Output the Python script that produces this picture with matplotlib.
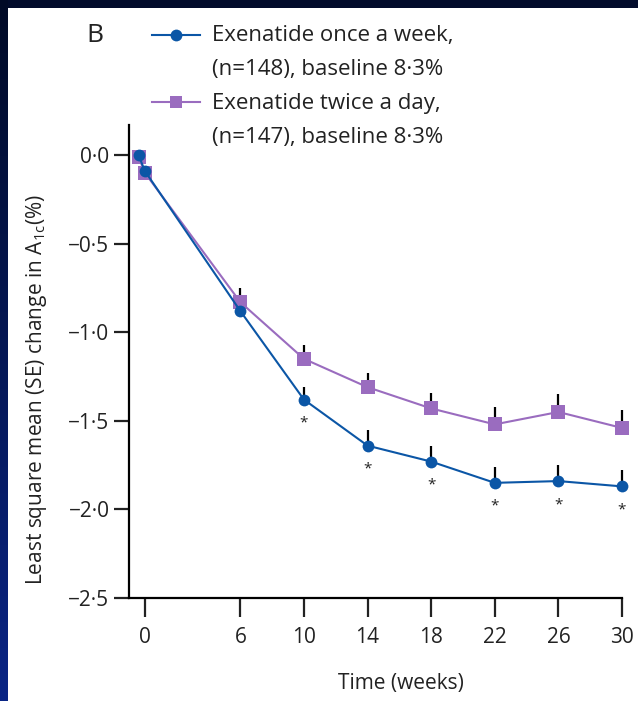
import matplotlib
matplotlib.use('Agg')
import matplotlib.pyplot as plt
import numpy as np
from matplotlib.lines import Line2D
from matplotlib.patches import Rectangle

plt.rcParams['font.family'] = ['Open Sans', 'DejaVu Sans']
plt.rcParams['mathtext.fontset'] = 'custom'
plt.rcParams['mathtext.rm'] = 'Open Sans'

# Data
weeks = [-0.4, 0, 6, 10, 14, 18, 22, 26, 30]
weekly_mean = [0.0, -0.09, -0.88, -1.38, -1.64, -1.73, -1.85, -1.84, -1.87]
weekly_se = [0, 0, 0.06, 0.07, 0.09, 0.09, 0.09, 0.09, 0.09]
twice_mean = [-0.01, -0.10, -0.83, -1.15, -1.31, -1.43, -1.52, -1.45, -1.54]
twice_se = [0, 0, 0.08, 0.08, 0.08, 0.09, 0.10, 0.10, 0.10]
signif_weeks = [10, 14, 18, 22, 26, 30]
xtick_vals = [0, 6, 10, 14, 18, 22, 26, 30]
ytick_vals = [0.0, -0.5, -1.0, -1.5, -2.0, -2.5]

blue = '#0b56a6'
purple = '#9a6cbf'
ink = '#222222'

fig = plt.figure(figsize=(6.38, 7.01), dpi=100, facecolor='#020b2b')

# white panel and the blue strip on the left
fig.patches.append(Rectangle((8 / 638, 0), 1, 693 / 701, transform=fig.transFigure,
                             facecolor='white', edgecolor='none', zorder=-10))
strip = fig.add_axes([0, 0, 8 / 638, 1])
grad = np.linspace(0, 1, 256).reshape(-1, 1)
strip.imshow(grad, aspect='auto', cmap=matplotlib.colors.LinearSegmentedColormap.from_list(
    'navy', ['#010a26', '#0a2585']), origin='upper')
strip.axis('off')

ax = fig.add_axes([129 / 638, 103 / 701, 493 / 638, 473 / 701])
ax.set_facecolor('none')

# error bars (upper only)
ax.errorbar(weeks, weekly_mean, yerr=[np.zeros(len(weekly_se)), weekly_se], fmt='none',
            ecolor='black', elinewidth=1.6, capsize=0, zorder=2, clip_on=False)
ax.errorbar(weeks, twice_mean, yerr=[np.zeros(len(twice_se)), twice_se], fmt='none',
            ecolor='black', elinewidth=1.6, capsize=0, zorder=2, clip_on=False)

ax.plot(weeks, twice_mean, color=purple, lw=1.5, marker='s', markersize=9.5,
        markeredgewidth=0, zorder=3, clip_on=False)
ax.plot(weeks, weekly_mean, color=blue, lw=1.5, marker='o', markersize=8.5,
        markeredgewidth=0, zorder=4, clip_on=False)

# significance asterisks under the once-weekly points
for w in signif_weeks:
    y = weekly_mean[weeks.index(w)]
    ax.annotate('*', xy=(w, y), xytext=(0, -17), textcoords='offset points',
                ha='center', va='center', fontsize=11, color=ink)

ax.set_xlim(-1, 30)
ax.set_ylim(-2.5, 0.17)
ax.spines['top'].set_visible(False)
ax.spines['right'].set_visible(False)
ax.spines['left'].set_linewidth(1.6)
ax.spines['bottom'].set_linewidth(1.6)

ax.set_xticks(xtick_vals)
ax.set_xticklabels([str(v) for v in xtick_vals])
ax.set_yticks(ytick_vals)
ax.set_yticklabels([f'{v:.1f}'.replace('.', '\u00b7').replace('-', '\u2212') for v in ytick_vals])
ax.tick_params(axis='x', length=14, width=1.6, pad=7, labelsize=15, colors=ink)
ax.tick_params(axis='y', length=11, width=1.6, pad=3, labelsize=15, colors=ink)

ax.set_xlabel('Time (weeks)', fontsize=15, color=ink)
ax.set_ylabel('Least square mean (SE) change in A$_{\\mathregular{1c}}$(%)', fontsize=15,
              color=ink)
ax.xaxis.set_label_coords(0.552, -0.18)
ax.yaxis.set_label_coords(-0.187, 0.44)
ax.xaxis.label.set_va('center')
ax.yaxis.label.set_va('center')

# panel letter and legend
fig.text(95 / 638, 1 - 35 / 701, 'B', fontsize=19, ha='center', va='center', color=ink)
fig.lines.append(Line2D([152 / 638, 200 / 638], [1 - 35 / 701] * 2, transform=fig.transFigure,
                        color=blue, lw=1.5))
fig.lines.append(Line2D([176 / 638], [1 - 35 / 701], transform=fig.transFigure,
                        color=blue, marker='o', markersize=8.5, markeredgewidth=0))
fig.lines.append(Line2D([152 / 638, 200 / 638], [1 - 102 / 701] * 2, transform=fig.transFigure,
                        color=purple, lw=1.5))
fig.lines.append(Line2D([176 / 638], [1 - 102 / 701], transform=fig.transFigure,
                        color=purple, marker='s', markersize=9, markeredgewidth=0))
legend_lines = ['Exenatide once a week,', '(n=148), baseline 8\u00b73%',
                'Exenatide twice a day,', '(n=147), baseline 8\u00b73%']
for i, txt in enumerate(legend_lines):
    fig.text(212 / 638, 1 - (35 + i * 34) / 701, txt, fontsize=16, ha='left', va='center',
             color=ink)

fig.savefig('out.png', dpi=100, facecolor=fig.get_facecolor())
